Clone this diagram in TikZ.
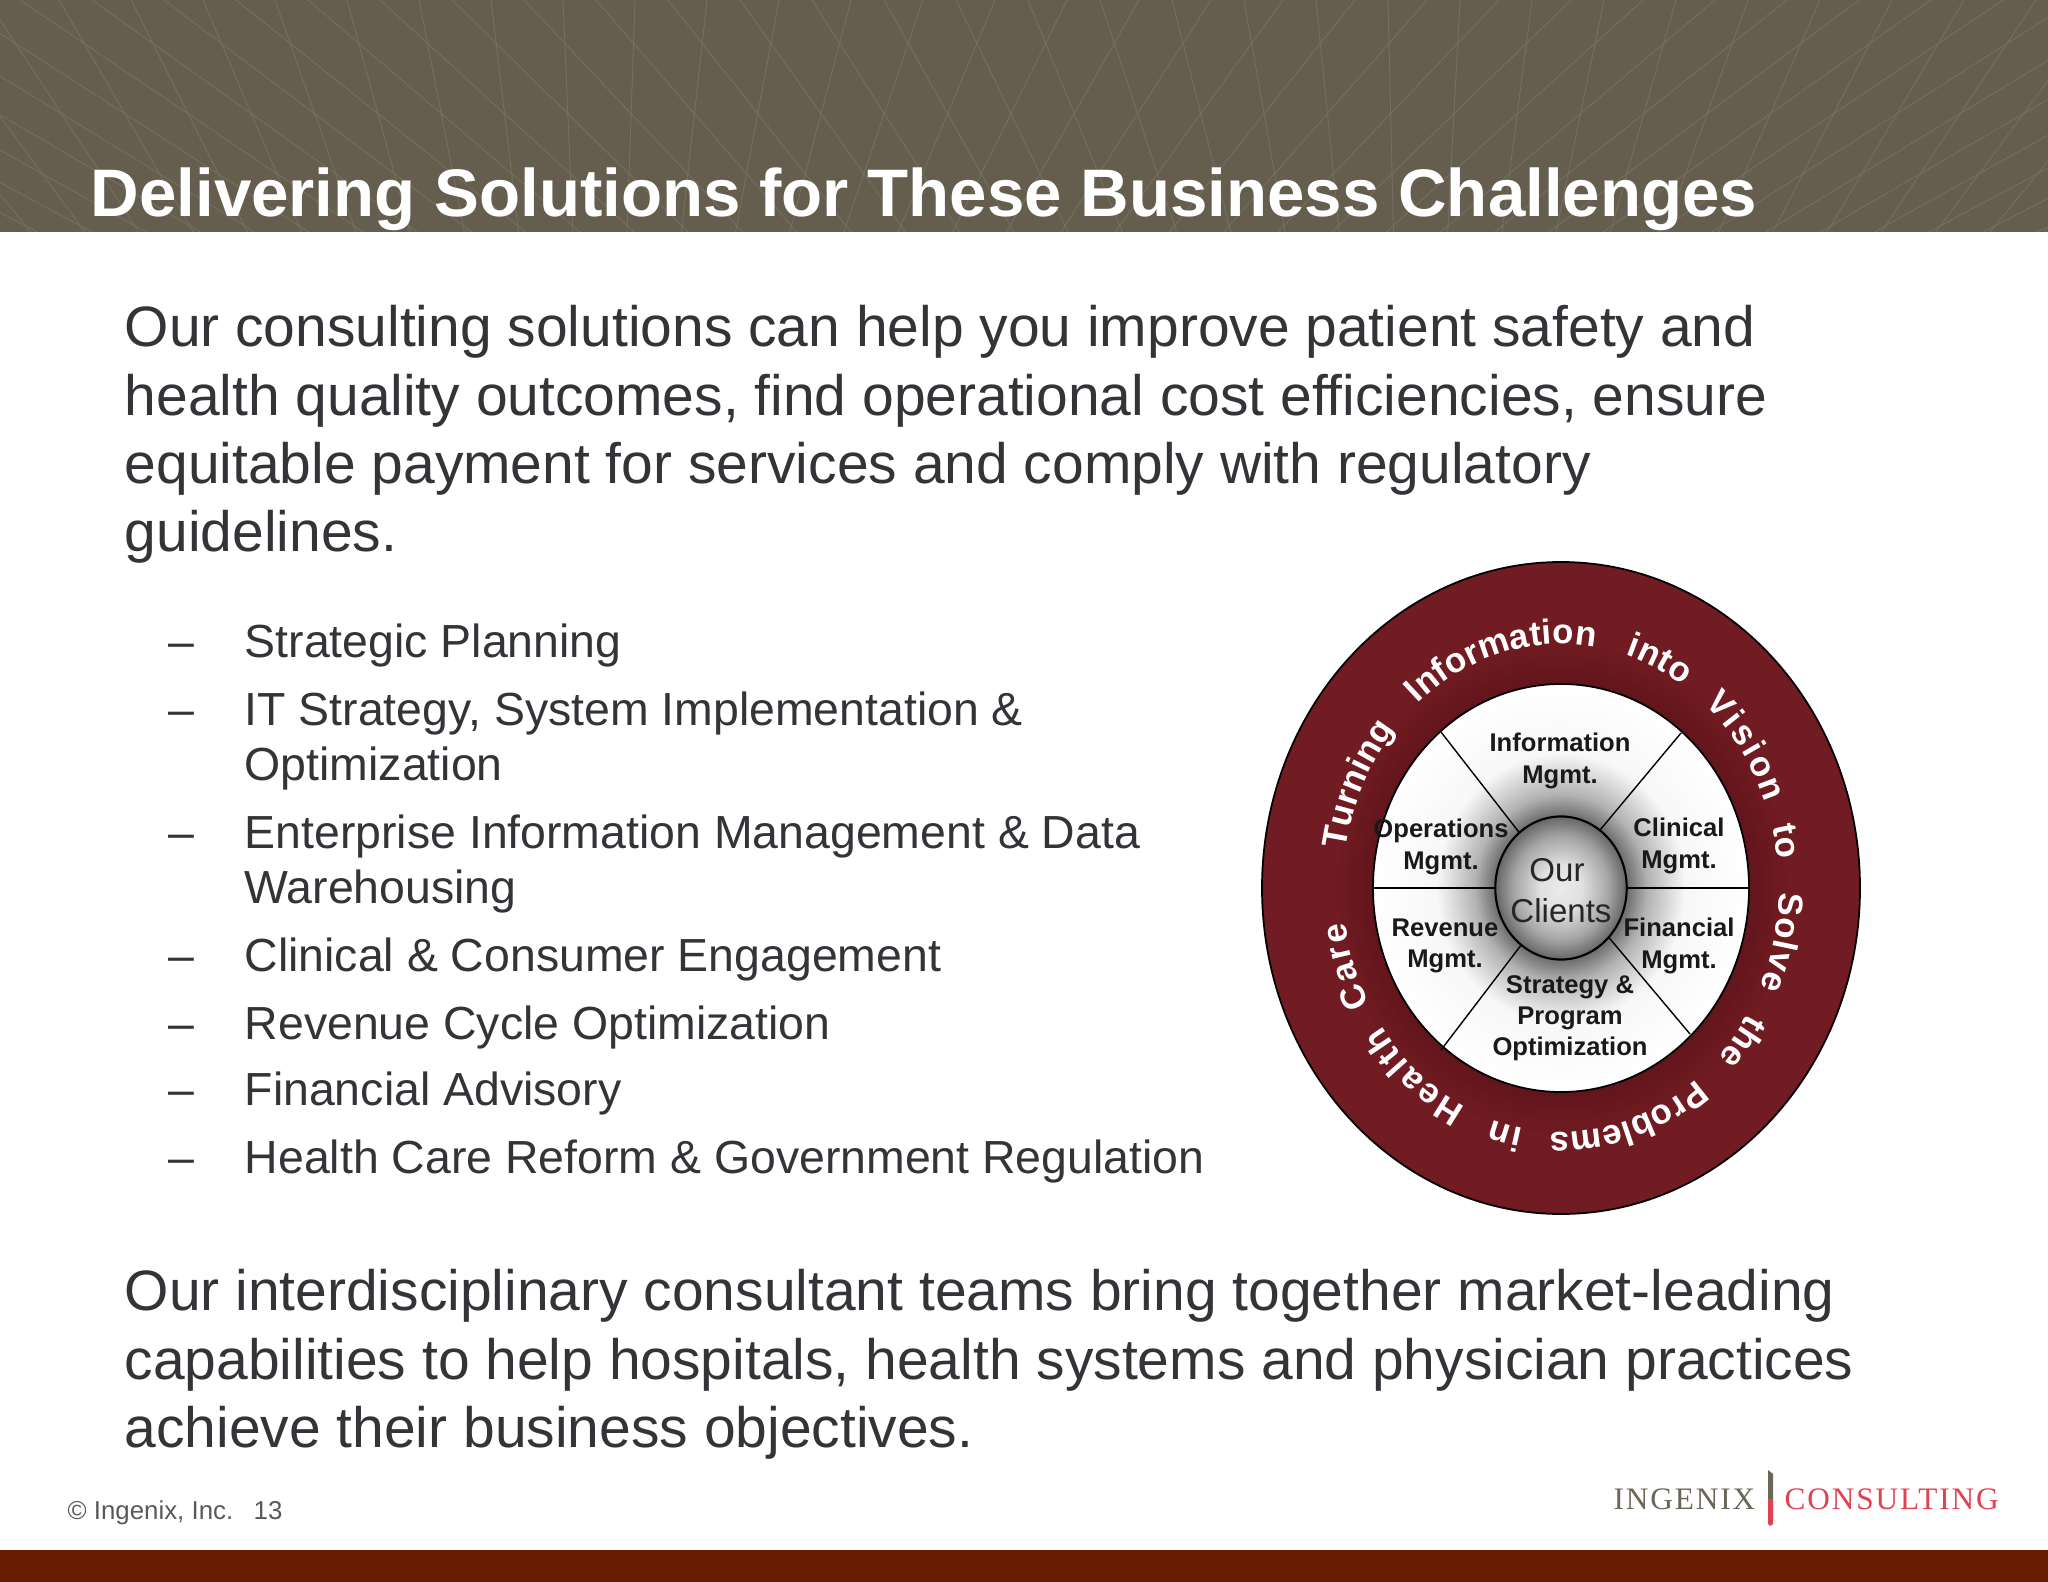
\documentclass[tikz,border=0pt]{standalone}
\usepackage{fontspec}
\setmainfont{Liberation Sans}
\newfontfamily\logofont[LetterSpace=6]{Liberation Serif}
\usetikzlibrary{shapes.geometric,decorations.text}
\definecolor{bannerbrown}{HTML}{655E4E}
\definecolor{bannerline}{HTML}{746F60}
\definecolor{bodygray}{HTML}{333338}
\definecolor{ringred}{HTML}{711B22}
\definecolor{ringdark}{HTML}{5E1419}
\definecolor{footbar}{HTML}{6B1D04}
\definecolor{logogray}{HTML}{6B6657}
\definecolor{logored}{HTML}{E0424F}
\pgfdeclareradialshading{ringshade}{\pgfpoint{0bp}{0bp}}{color(0bp)=(ringdark); color(15bp)=(ringdark); color(19bp)=(ringred); color(50bp)=(ringred)}
\pgfdeclareradialshading{wheelshade}{\pgfpoint{0bp}{0bp}}{color(0bp)=(black!55); color(9bp)=(black!55); color(11.5bp)=(black!30); color(16.5bp)=(black!3); color(25bp)=(white); color(50bp)=(white)}
\pgfdeclareradialshading{hubshade}{\pgfpoint{0bp}{0bp}}{color(0bp)=(black!8); color(8bp)=(black!12); color(18bp)=(black!35); color(25bp)=(black!60); color(50bp)=(black!60)}
\tikzset{
  paragraphtext/.style={anchor=north west,inner sep=0pt,align=left,text=bodygray,font=\fontsize{16.2}{19.35}\selectfont},
  bullettext/.style={anchor=north west,inner sep=0pt,align=left,text=bodygray,font=\fontsize{13.2}{15.6}\selectfont},
  bulletdash/.style={anchor=base west,inner sep=0pt,text=bodygray,font=\fontsize{13.2}{15.6}\selectfont},
  wheellabel/.style={inner sep=0pt,align=center,text=black!90,font=\bfseries\fontsize{7.28}{8.88}\selectfont},
  footnotetext/.style={anchor=base west,inner sep=0pt,text=black!65,font=\fontsize{7.35}{9}\selectfont},
  spoke/.style={draw=black,line width=0.4pt}
}
\newcommand{\ringword}[3]{\path[decorate,decoration={text along path,text color=white,text={|\bfseries\fontsize{9.9}{11}\selectfont|#3},text align={fit to path}}] ({218*cos(#1)},{244*sin(#1)}) arc[start angle=#1,end angle=#2,x radius=218,y radius=244];}
\begin{document}
\begin{tikzpicture}[x=0.01cm,y=-0.01cm]
  \useasboundingbox (0,0) rectangle (2048,1582);
  % banner
  \fill[bannerbrown] (0,0) rectangle (2048,232);
  \begin{scope}
    \clip (0,0) rectangle (2048,232);
    \foreach \t in {-700,-628,...,2800} {
      \draw[bannerline,line width=0.25pt] (\t,0) -- ({\t+232*1.5*(1-\t/1410)},232);
      \draw[bannerline,line width=0.25pt] (\t+39,0) -- ({\t+39+232*(0.6-1.5*\t/1410)},232);
    }
  \end{scope}
  \node[anchor=base west,inner sep=0pt,text=white,font=\bfseries\fontsize{19.12}{23}\selectfont] (title) at (90,217) {Delivering Solutions for These Business Challenges};
  % paragraphs
  \node[paragraphtext] (intro) at (124,305) {Our consulting solutions can help you improve patient safety and\\health quality outcomes, find operational cost efficiencies, ensure\\equitable payment for services and comply with regulatory\\guidelines.};
  \node[paragraphtext] (closing) at (124,1269) {Our interdisciplinary consultant teams bring together market-leading\\capabilities to help hospitals, health systems and physician practices\\achieve their business objectives.};
  % bullets
  \foreach \itemy in {657,725,848,971,1039,1105,1173} {
    \node[bulletdash] (dash\itemy) at (168,\itemy) {--};
  }
  \node[bullettext] (planning) at (244,623) {Strategic Planning};
  \node[bullettext] (strategy) at (244,691) {IT Strategy, System Implementation \&\\Optimization};
  \node[bullettext] (enterprise) at (244,814) {Enterprise Information Management \& Data\\Warehousing};
  \node[bullettext] (clinical) at (244,937) {Clinical \& Consumer Engagement};
  \node[bullettext] (revenue) at (244,1005) {Revenue Cycle Optimization};
  \node[bullettext] (financial) at (244,1071) {Financial Advisory};
  \node[bullettext] (reform) at (244,1139) {Health Care Reform \& Government Regulation};
  % wheel, origin at its centre and y upwards
  \begin{scope}[shift={(1561,888)},y=0.01cm]
    \draw[black,line width=0.5pt,shading=ringshade] (0,0) ellipse[x radius=299,y radius=326];
    \draw[black,line width=0.5pt,shading=wheelshade] (0,0) ellipse[x radius=188,y radius=204];
    \coordinate (rimA) at (-120,156);
    \coordinate (rimB) at (120,155);
    \coordinate (rimC) at (-188,0);
    \coordinate (rimD) at (188,0);
    \coordinate (rimE) at (-120,-162);
    \coordinate (rimF) at (129,-146);
    \node[ellipse,draw=black,line width=0.6pt,shading=hubshade,inner sep=0pt,minimum width=1.314cm,minimum height=1.43cm] (hub) at (0,0) {};
    \node[inner sep=0pt,align=center,text=black!85,font=\fontsize{9.4}{11.7}\selectfont] (hublabel) at (0,-3) {Our\hspace*{0.08cm}\\Clients};
    \draw[spoke] (rimA) -- (hub.127);
    \draw[spoke] (rimB) -- (hub.56);
    \draw[spoke] (rimC) -- (hub.180);
    \draw[spoke] (rimD) -- (hub.0);
    \draw[spoke] (rimE) -- (hub.-125);
    \draw[spoke] (rimF) -- (hub.-46);
    \node[wheellabel] (information) at (-1,127) {Information\\Mgmt.};
    \node[wheellabel] (operations) at (-120,41) {Operations\\Mgmt.};
    \node[wheellabel] (clinicalmgmt) at (118,42) {Clinical\\Mgmt.};
    \node[wheellabel] (revenuemgmt) at (-116,-58) {Revenue\\Mgmt.};
    \node[wheellabel] (financialmgmt) at (118,-58) {Financial\\Mgmt.};
    \node[wheellabel] (program) at (9,-130) {Strategy \&\\Program\\Optimization};
    % ring text, one arc per word
    \ringword{171}{139.5}{Turning}
    \ringword{131}{81}{Information}
    \ringword{72.7}{56}{into}
    \ringword{49}{20.5}{Vision}
    \ringword{14.5}{7}{to}
    \ringword{-1}{-24}{Solve}
    \ringword{-31}{-44}{the}
    \ringword{-51.7}{-92.5}{Problems}
    \ringword{-100}{-108.5}{in}
    \ringword{-116}{-145.5}{Health}
    \ringword{-151.5}{-172}{Care}
  \end{scope}
  % footer
  \node[footnotetext] (copyright) at (67,1519) {© Ingenix, Inc.};
  \node[footnotetext] (pagenum) at (253,1519) {13};
  \node[anchor=base west,inner sep=0pt,text=logogray,font=\logofont\fontsize{8.9}{10}\selectfont] (ingenix) at (1613,1509) {INGENIX};
  \node[anchor=base west,inner sep=0pt,text=logored,font=\logofont\fontsize{8.9}{10}\selectfont] (consulting) at (1784,1509) {CONSULTING};
  \fill[logogray] (1768,1470) -- (1773,1474) -- (1773,1499) -- (1768,1499) -- cycle;
  \fill[logored] (1768,1499) -- (1773,1499) -- (1773,1524) -- (1770,1526) -- (1768,1524) -- cycle;
  \fill[footbar] (0,1550) rectangle (2048,1582);
\end{tikzpicture}
\end{document}
